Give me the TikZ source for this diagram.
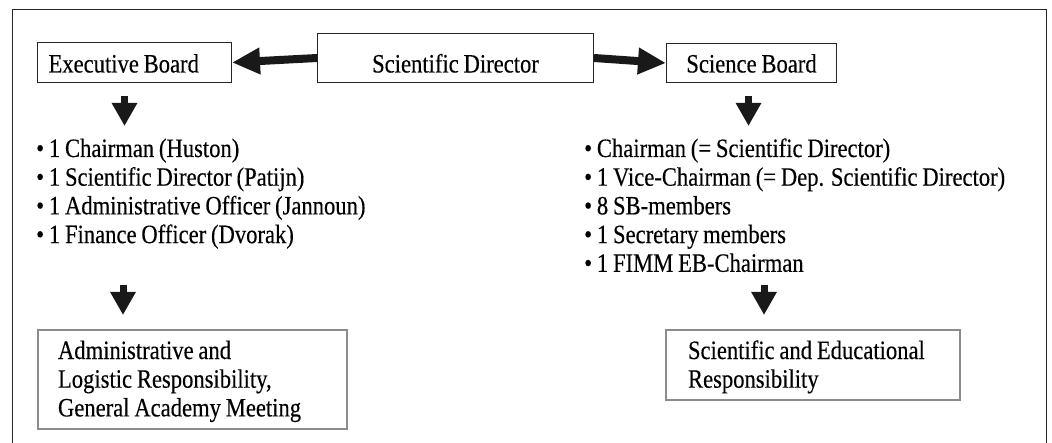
\documentclass[tikz,border=0pt]{standalone}
\usepackage{fontspec}
\setmainfont{Liberation Serif}[FakeStretch=0.853,FakeBold=0.3,WordSpace=0.85]
\usetikzlibrary{arrows.meta,calc}
\begin{document}
\begin{tikzpicture}[x=1pt,y=-1pt,
  every node/.style={font=\fontsize{26.5}{28.7}\selectfont},
  box/.style={draw=black!85,line width=1pt,anchor=north west,inner ysep=0pt},
  lowbox/.style={draw=black!45,line width=2pt,anchor=north west,inner ysep=0pt},
  item/.style={anchor=base west,inner sep=0pt},
  harr/.style={line width=8pt,-{Triangle[length=28pt,width=25pt]},black!90},
  dn/.style={line width=7pt,-{Triangle[length=23pt,width=24pt]},black!90}]
\useasboundingbox (0,0) rectangle (1052,443);
% outer frame (open at bottom)
\draw[black!85,line width=1pt] (12,443) -- (12,10) -- (1046,10) -- (1046,443);
% top row
\node[box,inner xsep=11pt,text height=30pt,text depth=10pt] (eb) at (37,42) {\makebox[172pt][l]{Executive Board}};
\node[box,minimum width=276pt,inner xsep=0pt,text height=39pt,text depth=10pt] (sd) at (317,33) {Scientific Director};
\node[box,minimum width=170pt,inner xsep=0pt,text height=29pt,text depth=10pt] (sb) at (666,43) {Science Board};
\draw[harr] (sd.west) -- (eb.east);
\draw[harr] (sd.east) -- (sb.west);
% left list
\node[item] (l1) at (36,157) {• 1 Chairman (Huston)};
\node[item] (l2) at (36,185.7) {• 1 Scientific Director (Patijn)};
\node[item] (l3) at (36,214.4) {• 1 Administrative Officer (Jannoun)};
\node[item] (l4) at (36,243.1) {• 1 Finance Officer (Dvorak)};
% right list
\node[item] (r1) at (584,157) {• Chairman (= Scientific Director)};
\node[item] (r2) at (584,185.7) {• 1 Vice-Chairman (= Dep. Scientific Director)};
\node[item] (r3) at (584,214.4) {• 8 SB-members};
\node[item] (r4) at (584,243.1) {• 1 Secretary members};
\node[item] (r5) at (584,271.8) {• 1 FIMM EB-Chairman};
% lower boxes
\node[lowbox,inner xsep=20pt] (adm) at (37,329)
  {\parbox{269pt}{\raggedright\rule{0pt}{29pt}Administrative and\\Logistic Responsibility,\\General Academy Meeting\rule[-13pt]{0pt}{13pt}}};
\node[lowbox,inner xsep=22pt] (sed) at (665,329)
  {\parbox{250pt}{\raggedright\rule{0pt}{29pt}Scientific and Educational\\Responsibility\rule[-12.5pt]{0pt}{12.5pt}}};
% down arrows
\draw[dn] ($(eb.south)+(-10,13)$) -- ($(eb.south)+(-10,43)$);
\draw[dn] ($(sb.south)+(-3,13)$) -- ($(sb.south)+(-3,43)$);
\draw[dn] ($(l4.base west)+(87,42)$) -- ($(adm.north west)+(86,-14)$);
\draw[dn] ($(r5.base west)+(180,13)$) -- ($(sed.north west)+(99,-14)$);
\end{tikzpicture}
\end{document}
